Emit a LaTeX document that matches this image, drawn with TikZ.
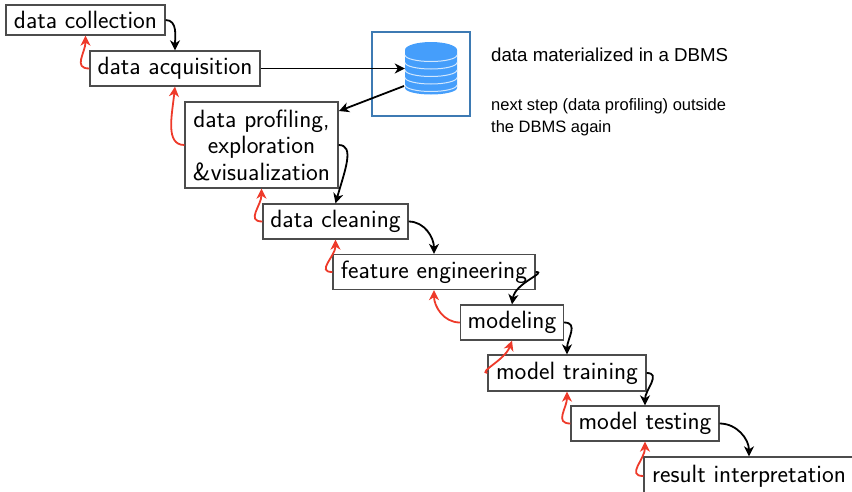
\documentclass[tikz,border=0pt]{standalone}
\usepackage{fontspec}
\setsansfont{Latin Modern Sans}
\newfontfamily\notefont{Liberation Sans}
\usepackage{tikz}
\usetikzlibrary{arrows.meta,positioning}
\definecolor{dbblue}{HTML}{459EFB}
\definecolor{dbframe}{HTML}{3D7AB3}
\definecolor{backred}{HTML}{EE3A2A}
\tikzset{
	stage/.style={draw=black!70, line width=1.3pt, fill=white, align=center, inner sep=0pt, font=\sffamily\fontsize{25}{26.5}\selectfont},
	forward/.style={-{Stealth[length=10pt,width=10pt,inset=3pt]}, line width=1.8pt, black},
	backward/.style={-{Stealth[length=10pt,width=10pt,inset=3pt]}, line width=1.8pt, backred},
	note/.style={anchor=west, inner sep=0pt, font=\notefont\fontsize{16.5}{20}\selectfont}
}
\begin{document}
\begin{tikzpicture}[x=1pt,y=-1pt]
\useasboundingbox (0,0) rectangle (852,491);
\clip (0,0) rectangle (852,491);
\draw[dbframe, line width=1.8pt] (372,32) rectangle (470,116);
\node[stage, minimum width=159pt, minimum height=30pt] (collection) at (85.5,20) {data collection};
\node[stage, minimum width=170pt, minimum height=35pt] (acquisition) at (175,68.5) {data acquisition};
\node[stage, minimum width=153pt, minimum height=86pt] (profiling) at (261.5,145) {data profiling,\\ exploration\\ \&visualization};
\node[stage, minimum width=145pt, minimum height=35pt] (cleaning) at (335.5,221.5) {data cleaning};
\node[stage, minimum width=202pt, minimum height=35pt] (feature) at (434,272) {feature engineering};
\node[stage, minimum width=103pt, minimum height=35pt] (modeling) at (512,322.5) {modeling};
\node[stage, minimum width=158pt, minimum height=36pt] (training) at (567,373) {model training};
\node[stage, minimum width=148pt, minimum height=35pt] (testing) at (645,423.5) {model testing};
\node[stage, minimum width=210pt, minimum height=38pt] (result) at (749,476) {result interpretation};
% database
\node[minimum width=52pt, minimum height=52pt, inner sep=0pt] (db) at (431,68.5) {};
\begin{scope}[shift={(431,0)}]
	\fill[dbblue] (-26,50) -- (-26,88) arc[start angle=180, end angle=0, x radius=26, y radius=6.5] -- (26,50) -- cycle;
	\foreach \y in {55,62.5,70,77.5,85} {
		\draw[white!75!dbblue, line width=1pt] (-26,\y) arc[start angle=180, end angle=0, x radius=26, y radius=6.5];
	}
	\fill[dbblue] (0,50) ellipse[x radius=26, y radius=8];
\end{scope}
\coordinate (dbout) at (404,86);
\coordinate (profin) at (339,111);
\draw[forward] (acquisition.east) -- (db.west);
\draw[forward] (dbout) -- (profin);
% forward steps
\draw[forward] (collection.east) to[out=0, in=90, looseness=1] (acquisition.north);
\draw[forward] (profiling.east) .. controls (355,145) and (345,170) .. (cleaning.north);
\draw[forward] (cleaning.east) to[out=0, in=90] (feature.north);
\draw[forward] (feature.east) .. controls (548,272) and (515,283) .. (modeling.north);
\draw[forward] (modeling.east) to[out=0, in=90, looseness=1.2] (training.north);
\draw[forward] (training.east) to[out=0, in=90, looseness=1.2] (testing.north);
\draw[forward] (testing.east) to[out=0, in=90] (result.north);
% backward steps
\draw[backward] (acquisition.west) to[out=180, in=-90, looseness=1.3] (collection.south);
\draw[backward] (profiling.west) .. controls (165,145) and (172,115) .. (acquisition.south);
\draw[backward] (cleaning.west) to[out=180, in=-90, looseness=1.3] (profiling.south);
\draw[backward] (feature.west) to[out=180, in=-90, looseness=1.3] (cleaning.south);
\draw[backward] (modeling.west) to[out=180, in=-90] (feature.south);
\draw[backward] (training.west) .. controls (478,372) and (505,360) .. (modeling.south);
\draw[backward] (testing.west) to[out=180, in=-90, looseness=1.3] (training.south);
\draw[backward] (result.west) to[out=180, in=-90, looseness=1.3] (testing.south);
% notes
\node[note, font=\notefont\fontsize{18.7}{20}\selectfont] (materialized) at (491,55) {data materialized in a DBMS};
\node[note] (nextstep) at (491,106) {next step (data profiling) outside};
\node[note] (again) at (491,128) {the DBMS again};
\end{tikzpicture}
\end{document}
